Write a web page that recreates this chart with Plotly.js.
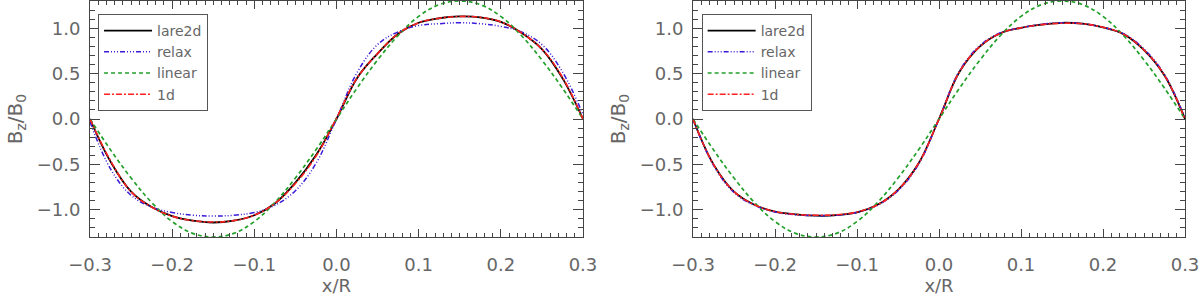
<!DOCTYPE html>
<html>
<head>
<meta charset="utf-8">
<script src="https://cdn.plot.ly/plotly-3.0.1.min.js"></script>
<style>html,body{margin:0;padding:0;background:#fff;}#chart{width:1200px;height:301px;}</style>
</head>
<body>
<div id="chart"></div>
<script>
// x/R positions
const xs = [-0.3, -0.275, -0.25, -0.225, -0.2, -0.175, -0.15, -0.125, -0.1, -0.075, -0.05, -0.025, 0,
            0.025, 0.05, 0.075, 0.1, 0.125, 0.15, 0.175, 0.2, 0.225, 0.25, 0.275, 0.3];

// Left panel
const lareL  = [0, -0.47, -0.80, -0.97, -1.07, -1.12, -1.14, -1.12, -1.06, -0.93, -0.70, -0.40, 0,
                0.45, 0.72, 0.94, 1.06, 1.11, 1.13, 1.12, 1.07, 0.95, 0.77, 0.45, 0.0];
const relaxL = [-0.03, -0.55, -0.84, -0.97, -1.03, -1.06, -1.07, -1.06, -1.03, -0.95, -0.79, -0.49, 0,
                0.51, 0.82, 0.96, 1.03, 1.05, 1.06, 1.05, 1.02, 0.96, 0.82, 0.52, 0.05];
const linearL = [0, -0.34, -0.65, -0.92, -1.13, -1.26, -1.30, -1.26, -1.13, -0.92, -0.65, -0.34, 0,
                 0.34, 0.65, 0.92, 1.13, 1.26, 1.30, 1.26, 1.13, 0.92, 0.65, 0.34, 0];
const oneL   = [0, -0.46, -0.80, -0.97, -1.07, -1.12, -1.135, -1.12, -1.06, -0.93, -0.71, -0.41, 0.01,
                0.45, 0.72, 0.94, 1.06, 1.11, 1.13, 1.12, 1.07, 0.95, 0.77, 0.46, 0.0];

// Right panel
const lareR  = [0, -0.50, -0.80, -0.945, -1.02, -1.05, -1.065, -1.06, -1.03, -0.945, -0.78, -0.49, 0,
                0.52, 0.80, 0.945, 1.005, 1.04, 1.06, 1.05, 1.01, 0.935, 0.76, 0.48, 0];
const relaxR = [0, -0.51, -0.81, -0.95, -1.025, -1.055, -1.065, -1.06, -1.03, -0.95, -0.79, -0.50, 0,
                0.53, 0.81, 0.95, 1.005, 1.045, 1.06, 1.05, 1.01, 0.94, 0.77, 0.49, 0.01];
const linearR = [0, -0.34, -0.65, -0.92, -1.13, -1.26, -1.30, -1.26, -1.13, -0.92, -0.65, -0.34, 0,
                 0.34, 0.65, 0.92, 1.13, 1.26, 1.30, 1.26, 1.13, 0.92, 0.65, 0.34, 0];
const oneR   = [0, -0.50, -0.80, -0.945, -1.02, -1.05, -1.06, -1.055, -1.025, -0.945, -0.78, -0.49, 0,
                0.52, 0.80, 0.945, 1.005, 1.04, 1.055, 1.05, 1.01, 0.935, 0.76, 0.48, 0];

const names = ['lare2d', 'relax', 'linear', '1d'];

const styles = [
  {color: '#000000', width: 1.8, dash: 'solid'},
  {color: '#3a1ad8', width: 1.5, dash: '5px,2px,1px,2px,1px,2px,1px,2px'},
  {color: '#22a02a', width: 1.7, dash: '4px,3px'},
  {color: '#ff2020', width: 1.6, dash: '6px,2px,2px,2px'}
];

function mk(y, i, xa, ya, leg) {
  return {
    x: xs, y: y, type: 'scatter', mode: 'lines', name: names[i],
    xaxis: xa, yaxis: ya, legend: leg,
    line: {color: styles[i].color, width: styles[i].width, dash: styles[i].dash, shape: 'spline', smoothing: 1.1}
  };
}

const data = [
  mk(lareL, 0, 'x', 'y', 'legend'),
  mk(relaxL, 1, 'x', 'y', 'legend'),
  mk(linearL, 2, 'x', 'y', 'legend'),
  mk(oneL, 3, 'x', 'y', 'legend'),
  mk(lareR, 0, 'x2', 'y2', 'legend2'),
  mk(relaxR, 1, 'x2', 'y2', 'legend2'),
  mk(linearR, 2, 'x2', 'y2', 'legend2'),
  mk(oneR, 3, 'x2', 'y2', 'legend2')
];

const axCol = '#444';
const txtCol = '#666';
const fnt = 'DejaVu Sans';

function xax(dom, anchor) {
  return {
    domain: dom, anchor: anchor, range: [-0.3, 0.3], tick0: 0, dtick: 0.1, tickformat: '.1f',
    ticks: 'inside', ticklen: 8, tickwidth: 1, tickcolor: axCol,
    minor: {dtick: 0.01, ticks: 'inside', ticklen: 4, tickcolor: axCol, showgrid: false},
    showline: true, linecolor: axCol, linewidth: 1, mirror: 'allticks',
    showgrid: false, zeroline: false, ticklabelstandoff: 11,
    tickfont: {family: fnt, size: 18, color: txtCol},
    title: {text: 'x/R', font: {family: fnt, size: 18, color: txtCol}, standoff: 3}
  };
}
function yax(anchor) {
  return {
    domain: [0, 1], anchor: anchor, range: [-1.3, 1.3], tick0: 0, dtick: 0.5, tickformat: '.1f',
    ticks: 'inside', ticklen: 10, tickwidth: 1, tickcolor: axCol,
    minor: {dtick: 0.1, ticks: 'inside', ticklen: 5, tickcolor: axCol, showgrid: false},
    showline: true, linecolor: axCol, linewidth: 1, mirror: 'allticks',
    showgrid: false, zeroline: false, ticklabelstandoff: 5,
    tickfont: {family: fnt, size: 18, color: txtCol},
    title: {text: 'B<sub>z</sub>/B<sub>0</sub>', font: {family: fnt, size: 20, color: txtCol}, standoff: 8}
  };
}
function leg(x) {
  return {
    x: x, y: 0.945, xanchor: 'left', yanchor: 'top', xref: 'paper', yref: 'paper',
    bgcolor: 'rgba(255,255,255,1)', bordercolor: '#555', borderwidth: 1,
    font: {family: fnt, size: 14, color: txtCol}, itemwidth: 48, tracegroupgap: 0
  };
}

const layout = {
  width: 1200, height: 301,
  margin: {l: 0, r: 0, t: 1, b: 64},
  paper_bgcolor: '#fff', plot_bgcolor: '#fff',
  font: {family: fnt, color: txtCol},
  xaxis: xax([0.075, 0.4858], 'y'),
  yaxis: yax('x'),
  xaxis2: xax([0.5775, 0.9875], 'y2'),
  yaxis2: yax('x2'),
  legend: leg(0.0817),
  legend2: leg(0.5847),
  showlegend: true
};

Plotly.newPlot('chart', data, layout, {displayModeBar: false, staticPlot: true});
</script>
</body>
</html>
